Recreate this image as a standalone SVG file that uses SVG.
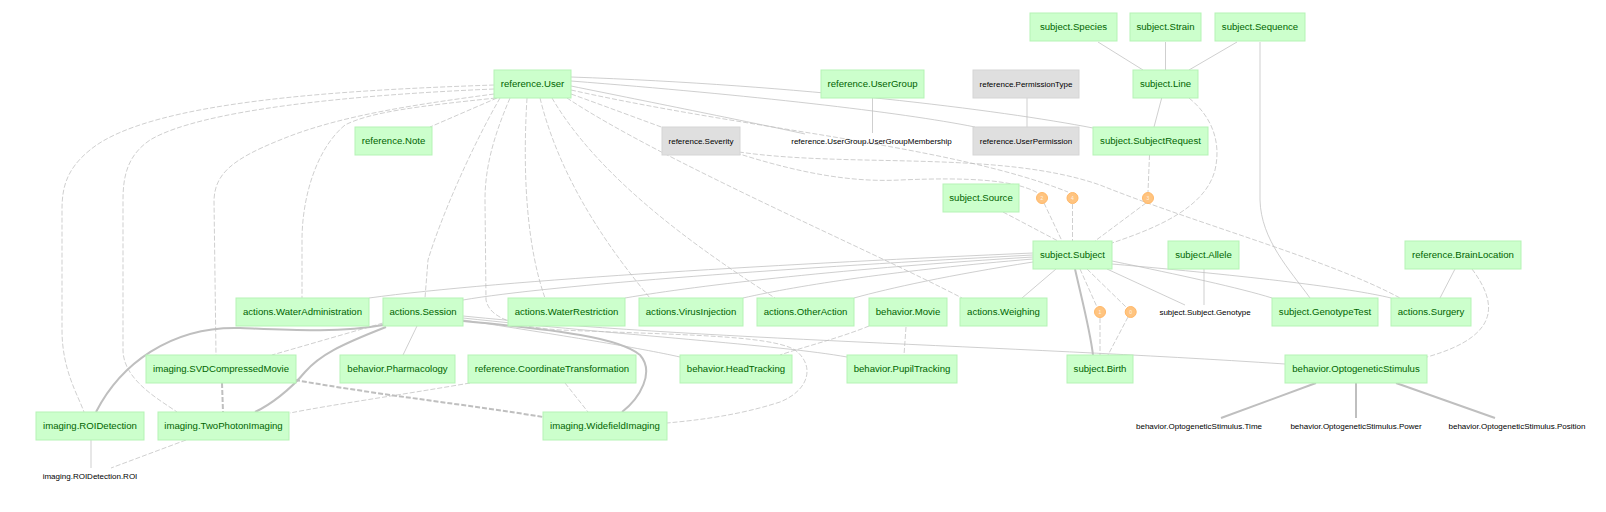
<svg xmlns="http://www.w3.org/2000/svg" width="1606" height="512" viewBox="0 0 1606 512">
<style>
.m rect{fill:#ccffcc;stroke:#b5f3b5;stroke-width:1}
.m text{fill:#006400;font-family:"Liberation Sans",Arial,sans-serif;font-size:9.6px;text-anchor:middle}
.l rect{fill:#dfdfdf;stroke:#d5d5d5;stroke-width:1}
.l text,.p text{fill:#000;font-family:"Liberation Sans",Arial,sans-serif;font-size:8px;text-anchor:middle}
.a circle{fill:#ffc480;stroke:#ffb868;stroke-width:1}
.a text{fill:#fff3e6;font-family:"Liberation Sans",Arial,sans-serif;font-size:5px;text-anchor:middle}
#edges path{fill:none;stroke:#bfbfbf;stroke-width:0.75}
#edges .d{stroke-dasharray:5,2}
#edges .t{stroke-width:2}
</style>
<rect width="1606" height="512" fill="#fff"/>
<g id="edges">
<path d="M1098,42 L1143,70"/>
<path d="M1165.5,42 L1165.5,70"/>
<path d="M1237,42 L1189,70"/>
<path d="M1260,42 L1260,200 C1261,240 1290,270 1310,298"/>
<path d="M1161.7,98 L1154,127"/>
<path d="M872.5,98 L872.5,133"/>
<path d="M1027,98 L1027,127"/>
<path d="M571,86 C650,102 760,124 805,134"/>
<path d="M571,81 C750,95 900,112 975,127"/>
<path d="M571,77 C800,85 1000,110 1093,128"/>
<path d="M1033,253 C800,263 500,280 369,298"/>
<path d="M1033,255 C800,267 550,285 463,300"/>
<path d="M1033,257 C850,268 700,285 625,298"/>
<path d="M1033,259 C900,270 800,285 743,298"/>
<path d="M1033,262 C950,275 890,288 854,298"/>
<path d="M1056,269 L1022,298"/>
<path d="M1107,269 L1185,305"/>
<path d="M1112,261 C1180,275 1240,288 1272,298"/>
<path d="M1112,264 C1250,276 1350,288 1391,298"/>
<path d="M1204,269 L1204,305"/>
<path d="M1455,269 L1440,298"/>
<path d="M417,326 L403,355"/>
<path d="M463,320 C560,335 640,348 680,357"/>
<path d="M463,318 C620,335 780,345 847,357"/>
<path d="M463,316 C700,340 1000,345 1285,364"/>
<path d="M91,440 L91,468"/>
<path class="t" d="M1075,269 C1082,300 1090,330 1093,355"/>
<path class="t" d="M383,325 C340,333 290,330 240,328 C170,326 120,365 96,412"/>
<path class="t" d="M386,327 C340,345 320,355 305,372 C290,390 270,405 255,412"/>
<path class="t" d="M463,321 C560,330 620,338 640,355 C655,372 640,398 622,412"/>
<path class="t" d="M1316,383 L1221,418"/>
<path class="t" d="M1356,383 L1356,418"/>
<path class="t" d="M1396,383 L1495,418"/>
<path class="d" d="M497,98 L430,127"/>
<path class="d" d="M494,85 C350,90 150,100 90,150 C65,170 62,190 62,210 L62,330 C62,370 78,395 84,412"/>
<path class="d" d="M494,89 C350,95 200,110 150,140 C128,155 123,175 123,200 L123,350 C123,380 160,400 177,412"/>
<path class="d" d="M494,94 C420,104 340,115 280,140 C230,160 215,175 214,200 L216,355"/>
<path class="d" d="M496,98 C420,106 370,112 345,125 C315,150 302,200 302,240 L302,298"/>
<path class="d" d="M500,98 C470,150 440,220 428,260 L425,298"/>
<path class="d" d="M527,98 C522,180 528,250 545,298"/>
<path class="d" d="M510,98 C492,140 485,170 485,200 L486,300 C490,320 520,327 560,330 C680,335 770,335 795,350 C815,365 810,390 780,402 C740,415 700,420 667,423"/>
<path class="d" d="M540,98 C560,180 610,250 650,298"/>
<path class="d" d="M552,98 C600,180 700,250 775,298"/>
<path class="d" d="M567,98 C660,160 870,250 962,298"/>
<path class="d" d="M571,94 C700,140 800,185 900,180 C970,177 1015,180 1038,193"/>
<path class="d" d="M571,90 C750,130 950,145 1068,192"/>
<path class="d" d="M739,152 C850,168 1000,150 1100,185 C1200,225 1330,260 1400,298"/>
<path class="d" d="M1044,203 L1062,241"/>
<path class="d" d="M1072.5,204 L1072.5,241"/>
<path class="d" d="M1146,203 L1095,241"/>
<path class="d" d="M1149.5,155 L1148,192"/>
<path class="d" d="M1189,98 C1210,115 1222,140 1215,170 C1205,210 1150,230 1112,243"/>
<path class="d" d="M1003,212 L1058,241"/>
<path class="d" d="M1080,269 L1097,307"/>
<path class="d" d="M1100,318 L1100,355"/>
<path class="d" d="M1087,269 L1126,307"/>
<path class="d" d="M1128,317 L1108,355"/>
<path class="d" d="M869,326 C840,338 800,348 780,355"/>
<path class="d" d="M906,327 L904,355"/>
<path class="d" d="M1472,269 C1495,300 1505,335 1427,357"/>
<path class="d" d="M383,323 L272,355"/>
<path class="d" d="M470,383 C400,395 330,405 290,413"/>
<path class="d" d="M565,383 L588,412"/>
<path class="d" d="M186,440 L111,468"/>
<path class="d t" d="M222,383 L223,412"/>
<path class="d t" d="M295,380 C380,395 470,405 543,417"/>
</g>
<g id="subject.Species" class="m"><rect x="1030" y="13" width="87" height="28"/><text x="1073.5" y="30.4">subject.Species</text></g>
<g id="subject.Strain" class="m"><rect x="1130" y="13" width="71" height="28"/><text x="1165.5" y="30.4">subject.Strain</text></g>
<g id="subject.Sequence" class="m"><rect x="1215" y="13" width="90" height="28"/><text x="1260" y="30.4">subject.Sequence</text></g>
<g id="reference.User" class="m"><rect x="494" y="70" width="77" height="28"/><text x="532.5" y="87.4">reference.User</text></g>
<g id="reference.UserGroup" class="m"><rect x="821" y="70" width="103" height="28"/><text x="872.5" y="87.4">reference.UserGroup</text></g>
<g id="reference.PermissionType" class="l"><rect x="973" y="70" width="106" height="28"/><text x="1026" y="86.9">reference.PermissionType</text></g>
<g id="subject.Line" class="m"><rect x="1133" y="70" width="65" height="28"/><text x="1165.5" y="87.4">subject.Line</text></g>
<g id="reference.Note" class="m"><rect x="355" y="127" width="77" height="28"/><text x="393.5" y="144.4">reference.Note</text></g>
<g id="reference.Severity" class="l"><rect x="662" y="127" width="78" height="28"/><text x="701" y="143.9">reference.Severity</text></g>
<g id="reference.UserGroup.UserGroupMembership" class="p"><text x="871.5" y="143.9">reference.UserGroup.UserGroupMembership</text></g>
<g id="reference.UserPermission" class="l"><rect x="973" y="127" width="106" height="28"/><text x="1026" y="143.9">reference.UserPermission</text></g>
<g id="subject.SubjectRequest" class="m"><rect x="1093" y="127" width="115" height="28"/><text x="1150.5" y="144.4">subject.SubjectRequest</text></g>
<g id="subject.Source" class="m"><rect x="943" y="184" width="76" height="28"/><text x="981" y="201.4">subject.Source</text></g>
<g id="alias2" class="a"><circle cx="1042" cy="198" r="5.5"/><text x="1042" y="199.8">2</text></g>
<g id="alias4" class="a"><circle cx="1072.5" cy="198" r="5.5"/><text x="1072.5" y="199.8">4</text></g>
<g id="alias3" class="a"><circle cx="1148" cy="198" r="5.5"/><text x="1148" y="199.8">3</text></g>
<g id="subject.Subject" class="m"><rect x="1033" y="241" width="79" height="28"/><text x="1072.5" y="258.4">subject.Subject</text></g>
<g id="subject.Allele" class="m"><rect x="1168" y="241" width="71" height="28"/><text x="1203.5" y="258.4">subject.Allele</text></g>
<g id="reference.BrainLocation" class="m"><rect x="1405" y="241" width="116" height="28"/><text x="1463" y="258.4">reference.BrainLocation</text></g>
<g id="actions.WaterAdministration" class="m"><rect x="236" y="298" width="133" height="28"/><text x="302.5" y="315.4">actions.WaterAdministration</text></g>
<g id="actions.Session" class="m"><rect x="383" y="298" width="80" height="28"/><text x="423" y="315.4">actions.Session</text></g>
<g id="actions.WaterRestriction" class="m"><rect x="508" y="298" width="117" height="28"/><text x="566.5" y="315.4">actions.WaterRestriction</text></g>
<g id="actions.VirusInjection" class="m"><rect x="639" y="298" width="104" height="28"/><text x="691" y="315.4">actions.VirusInjection</text></g>
<g id="actions.OtherAction" class="m"><rect x="757" y="298" width="97" height="28"/><text x="805.5" y="315.4">actions.OtherAction</text></g>
<g id="behavior.Movie" class="m"><rect x="869" y="298" width="78" height="28"/><text x="908" y="315.4">behavior.Movie</text></g>
<g id="actions.Weighing" class="m"><rect x="960" y="298" width="87" height="28"/><text x="1003.5" y="315.4">actions.Weighing</text></g>
<g id="alias1" class="a"><circle cx="1100" cy="312" r="5.5"/><text x="1100" y="313.8">1</text></g>
<g id="alias0" class="a"><circle cx="1130.7" cy="312" r="5.5"/><text x="1130.7" y="313.8">0</text></g>
<g id="subject.Subject.Genotype" class="p"><text x="1205" y="314.9">subject.Subject.Genotype</text></g>
<g id="subject.GenotypeTest" class="m"><rect x="1272" y="298" width="106" height="28"/><text x="1325" y="315.4">subject.GenotypeTest</text></g>
<g id="actions.Surgery" class="m"><rect x="1391" y="298" width="80" height="28"/><text x="1431" y="315.4">actions.Surgery</text></g>
<g id="imaging.SVDCompressedMovie" class="m"><rect x="146" y="355" width="150" height="28"/><text x="221" y="372.4">imaging.SVDCompressedMovie</text></g>
<g id="behavior.Pharmacology" class="m"><rect x="340" y="355" width="115" height="28"/><text x="397.5" y="372.4">behavior.Pharmacology</text></g>
<g id="reference.CoordinateTransformation" class="m"><rect x="468" y="355" width="168" height="28"/><text x="552" y="372.4">reference.CoordinateTransformation</text></g>
<g id="behavior.HeadTracking" class="m"><rect x="680" y="355" width="112" height="28"/><text x="736" y="372.4">behavior.HeadTracking</text></g>
<g id="behavior.PupilTracking" class="m"><rect x="847" y="355" width="110" height="28"/><text x="902" y="372.4">behavior.PupilTracking</text></g>
<g id="subject.Birth" class="m"><rect x="1067" y="355" width="66" height="28"/><text x="1100" y="372.4">subject.Birth</text></g>
<g id="behavior.OptogeneticStimulus" class="m"><rect x="1285" y="355" width="142" height="28"/><text x="1356" y="372.4">behavior.OptogeneticStimulus</text></g>
<g id="imaging.ROIDetection" class="m"><rect x="36" y="412" width="108" height="28"/><text x="90" y="429.4">imaging.ROIDetection</text></g>
<g id="imaging.TwoPhotonImaging" class="m"><rect x="158" y="412" width="131" height="28"/><text x="223.5" y="429.4">imaging.TwoPhotonImaging</text></g>
<g id="imaging.WidefieldImaging" class="m"><rect x="543" y="412" width="124" height="28"/><text x="605" y="429.4">imaging.WidefieldImaging</text></g>
<g id="behavior.OptogeneticStimulus.Time" class="p"><text x="1199" y="428.9">behavior.OptogeneticStimulus.Time</text></g>
<g id="behavior.OptogeneticStimulus.Power" class="p"><text x="1356" y="428.9">behavior.OptogeneticStimulus.Power</text></g>
<g id="behavior.OptogeneticStimulus.Position" class="p"><text x="1517" y="428.9">behavior.OptogeneticStimulus.Position</text></g>
<g id="imaging.ROIDetection.ROI" class="p"><text x="90" y="478.9">imaging.ROIDetection.ROI</text></g>
</svg>
